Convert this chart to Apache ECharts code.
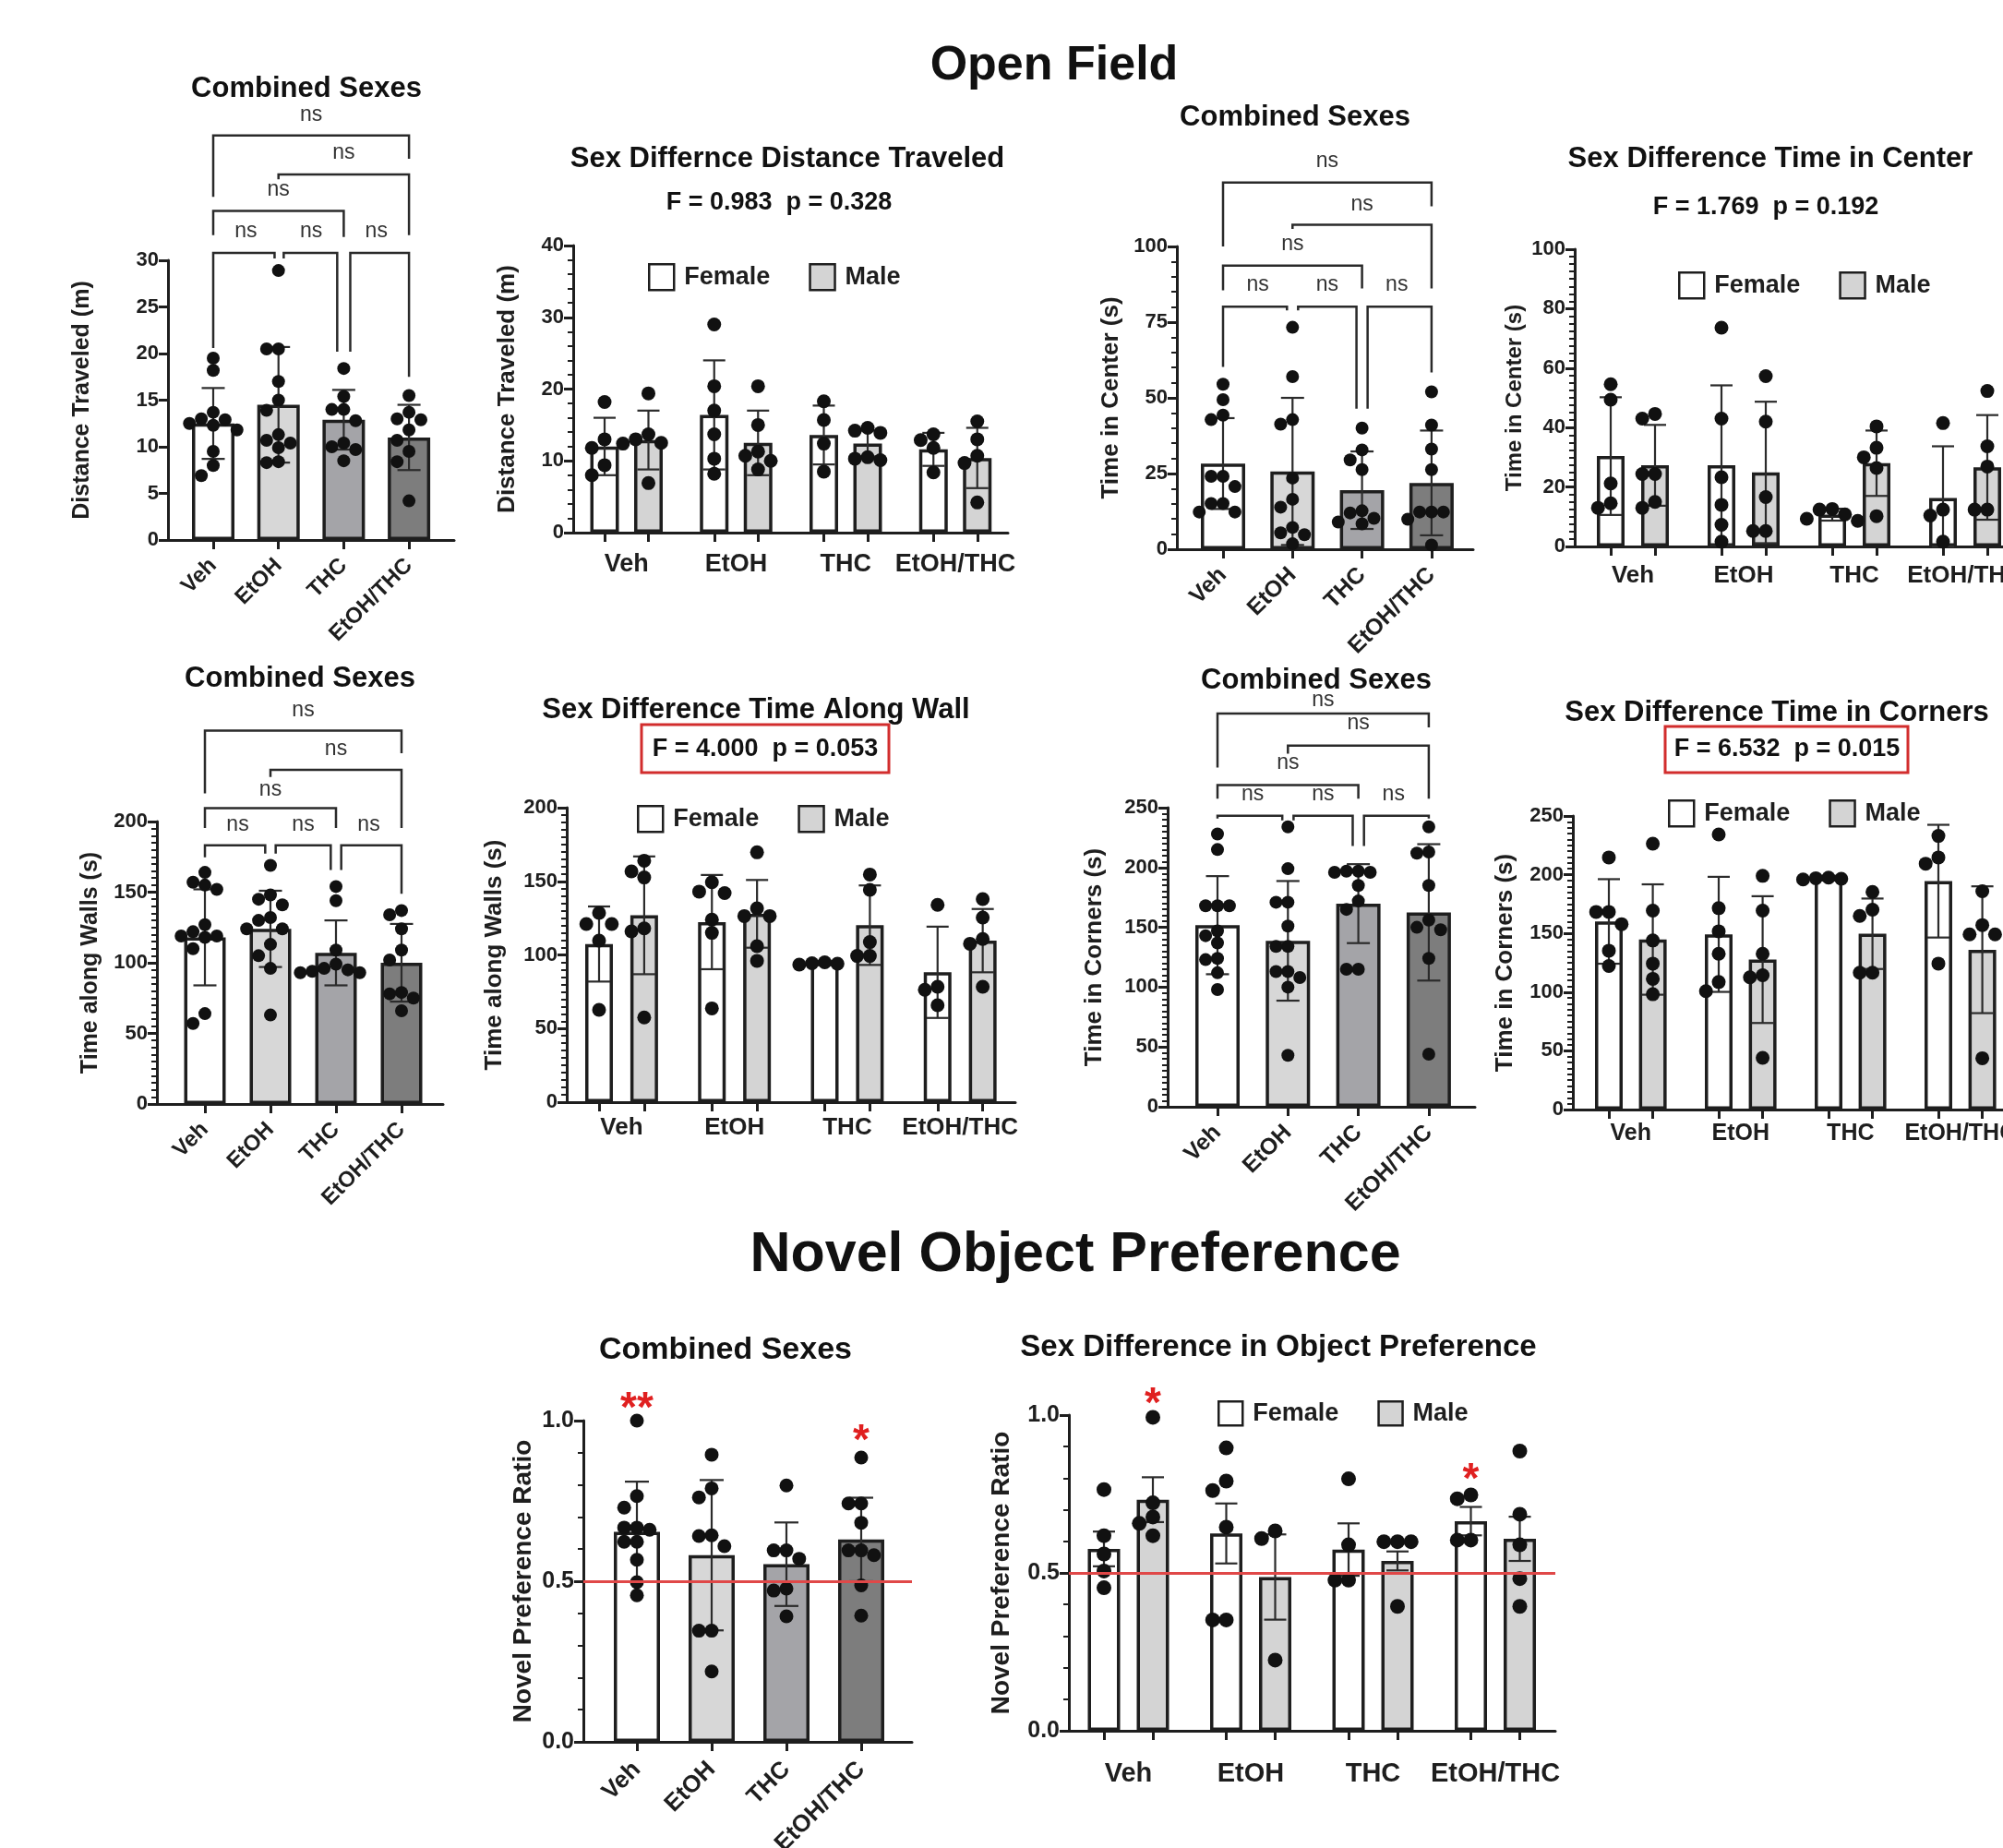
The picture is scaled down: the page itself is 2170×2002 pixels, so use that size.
<!DOCTYPE html>
<html lang="en">
<head>
<meta charset="UTF-8">
<title>Open Field / Novel Object Preference</title>
<style>
  html, body { margin: 0; padding: 0; background: #fff; }
  #main { width: 2170px; height: 2002px; }
</style>
</head>
<body>
<div id="main"></div>
<script src="https://cdn.jsdelivr.net/npm/echarts@6/dist/echarts.min.js"></script>
<script>
// ---- data ----
var groups = ['Veh', 'EtOH', 'THC', 'EtOH/THC'];

// distance traveled (m)
var distBar = [12.5, 14.5, 12.9, 11.0];
var distSd = [3.8, 6.2, 3.2, 3.5];
var distDots = [
  [19.5, 18.2, 13.7, 13.0, 12.9, 12.5, 12.3, 11.8, 9.5, 8.0, 6.9],
  [28.9, 20.5, 20.5, 17.0, 15.0, 13.9, 11.3, 10.7, 10.4, 9.9, 8.4, 8.3],
  [18.4, 15.4, 14.0, 14.0, 12.8, 10.4, 10.0, 9.7, 8.5],
  [15.5, 13.7, 13.0, 12.9, 11.8, 10.7, 9.5, 8.4, 4.2]
];
var distFBar = [12.0, 16.4, 13.6, 11.6];
var distFSd = [4.0, 7.6, 4.1, 2.3];
var distMBar = [12.9, 12.5, 12.4, 10.4];
var distMSd = [4.1, 4.5, 1.8, 4.2];
var distFDots = [[18.2, 13.0, 11.8, 9.4, 8.0], [29.0, 20.4, 17.0, 13.7, 10.3, 8.2], [18.3, 15.7, 12.4, 8.5], [13.7, 12.9, 11.8, 8.4]];
var distMDots = [[19.4, 13.7, 13.0, 12.5, 12.4, 6.9], [20.4, 15.0, 11.3, 10.7, 10.0, 8.8], [14.6, 14.2, 13.9, 10.5, 10.3, 10.1], [15.5, 13.0, 10.7, 9.7, 4.2]];

// time in center (s)
var centerBar = [28.3, 25.7, 19.5, 21.9];
var centerSd = [15.0, 24.3, 12.8, 17.3];
var centerDots = [
  [54.5, 49.4, 44.3, 42.8, 24.1, 24.1, 20.7, 15.1, 15.1, 12.3, 12.3],
  [73.3, 57.0, 42.8, 41.3, 23.5, 16.5, 13.9, 7.2, 5.4, 4.8, 1.8],
  [40.0, 32.8, 29.5, 26.3, 12.7, 12.0, 10.2, 9.0, 8.4],
  [52.0, 41.0, 33.1, 26.3, 12.3, 12.3, 12.3, 9.9, 1.4]
];
var centerFBar = [30.4, 27.3, 10.7, 16.3];
var centerFSd = [19.8, 26.9, 2.0, 17.4];
var centerMBar = [27.3, 24.9, 28.0, 26.6];
var centerMSd = [13.6, 23.8, 11.0, 17.6];
var centerFDots = [[54.6, 49.4, 21.2, 14.5, 13.0], [73.6, 43.0, 23.3, 14.0, 7.3, 1.6], [12.6, 12.4, 10.8, 9.3, 8.6], [41.5, 12.4, 10.4, 1.6]];
var centerMDots = [[44.6, 43.0, 24.4, 24.4, 15.0, 13.0], [57.3, 42.0, 16.6, 5.2, 5.2], [40.4, 33.2, 30.0, 26.4, 10.2], [52.3, 33.7, 26.9, 12.4, 12.4]];

// time along walls (s)
var wallBar = [118, 124, 107, 100];
var wallSd = [34, 27, 23, 27.5];
var wallDots = [
  [164, 157, 155, 152, 127, 122, 119, 119, 118, 110, 64, 57],
  [169, 148, 145, 141, 132, 130, 124, 124, 113, 105, 96, 63],
  [154, 144, 109, 99, 96, 95, 94, 93, 93],
  [137, 134, 124, 109, 102, 79, 78, 75, 66]
];
var wallFBar = [107.4, 122.3, 94.5, 88.2];
var wallFSd = [25.5, 32, 1.2, 31];
var wallMBar = [126.9, 127.9, 120.2, 109.7];
var wallMSd = [40, 23, 27, 21.5];
var wallFDots = [[128.5, 121, 121, 109.7, 62.7], [149.4, 143, 142, 124, 115, 63.7], [95, 94.4, 94, 93.4], [134, 78.4, 76.3, 65.8]];
var wallMDots = [[164, 156.7, 152.6, 118, 116, 57.5], [169.7, 131.7, 126.4, 126.4, 106, 96], [154.6, 144.2, 108.7, 99.3, 99.3], [137.9, 125.4, 110.8, 107.6, 78.4]];

// time in corners (s)
var cornerBar = [151.8, 138.7, 169.8, 162.5];
var cornerSd = [41, 50, 33, 57];
var cornerDots = [
  [228, 215, 168, 168, 168, 147, 143, 137, 124, 123, 112, 98],
  [234, 199, 171, 171, 151, 134, 134, 113, 113, 108, 100, 43],
  [197, 197, 196, 196, 185, 172, 165, 115, 115],
  [234, 213, 212, 185, 156, 150, 148, 124, 44]
];
var cornerFBar = [160.2, 149.2, 197.1, 194.5];
var cornerFSd = [36, 49, 2, 48];
var cornerMBar = [144.8, 127.7, 149.7, 136.1];
var cornerMSd = [47, 54, 30, 54];
var cornerFDots = [[214.7, 168.3, 168.3, 157.9, 135.3, 122.3], [234.3, 171.5, 151.8, 132.7, 108.6, 100.8], [197.5, 197, 196.5, 196], [233, 214.7, 209.4, 124.3]];
var cornerMDots = [[226.4, 169.4, 144, 124.3, 111.3, 98.2], [199, 169.4, 132.7, 114.4, 112.6, 44], [185.3, 170.2, 164.9, 116.5, 116.5], [185.9, 157.1, 149.2, 149.2, 43.7]];

// novel object preference ratio
var novelBar = [0.654, 0.581, 0.553, 0.630];
var novelSd = [0.156, 0.234, 0.13, 0.13];
var novelDots = [
  [1.0, 0.765, 0.729, 0.667, 0.667, 0.660, 0.623, 0.623, 0.567, 0.497, 0.456],
  [0.894, 0.789, 0.761, 0.643, 0.641, 0.609, 0.346, 0.346, 0.219],
  [0.798, 0.596, 0.596, 0.570, 0.477, 0.471, 0.391],
  [0.885, 0.742, 0.742, 0.682, 0.596, 0.596, 0.581, 0.487, 0.393]
];
var novelFBar = [0.576, 0.625, 0.574, 0.664];
var novelFSe = [0.055, 0.095, 0.083, 0.045];
var novelMBar = [0.732, 0.487, 0.538, 0.608];
var novelMSe = [0.071, 0.135, 0.03, 0.07];
var novelFDots = [[0.764, 0.618, 0.56, 0.506, 0.453], [0.896, 0.791, 0.761, 0.645, 0.351, 0.351], [0.798, 0.589, 0.477, 0.477], [0.747, 0.735, 0.604, 0.604]];
var novelMDots = [[0.993, 0.722, 0.677, 0.657, 0.618], [0.633, 0.609, 0.224], [0.599, 0.599, 0.599, 0.394], [0.886, 0.686, 0.589, 0.482, 0.394]];

// significance brackets: [from, to, level, dropFrom, dropTo, labelY, nudgeFrom, nudgeTo]
var distBrackets = [
  [0, 1, 30.8, 20.6, 30.2, 33.1, 0, -0.06], [1, 2, 30.8, 30.2, 20.2, 33.1, 0.08, -0.1], [2, 3, 30.8, 20.2, 17.5, 33.1, 0.1, 0],
  [0, 2, 35.3, 32.7, 32.5, 37.6, 0, 0], [1, 3, 39.2, 38.7, 32.7, 41.5, 0, 0], [0, 3, 43.4, 36.8, 40.9, 45.6, 0, 0]
];
var centerBrackets = [
  [0, 1, 80.1, 60.2, 78.9, 87.3, 0, -0.08], [1, 2, 80.1, 78.9, 46.4, 87.3, 0.08, -0.08], [2, 3, 80.1, 46.4, 58.4, 87.3, 0.08, 0],
  [0, 2, 93.7, 85.5, 86.1, 100.6, 0, 0], [1, 3, 107.2, 105.8, 86.1, 113.9, 0, 0], [0, 3, 121.1, 100, 113.3, 128.3, 0, 0]
];
var wallBrackets = [
  [0, 1, 183.2, 174.7, 177.3, 197.9, 0, -0.08], [1, 2, 183.2, 177.3, 165.7, 197.9, 0.08, -0.08], [2, 3, 183.2, 165.7, 148.9, 197.9, 0.08, 0],
  [0, 2, 209.5, 195.4, 195.4, 222.5, 0, 0], [1, 3, 236.6, 231.5, 195.4, 251.4, 0, 0], [0, 3, 264.3, 219.9, 248.3, 278.7, 0, 0]
];
var cornerBrackets = [
  [0, 1, 243.3, 240.9, 239.3, 260.7, 0, -0.08], [1, 2, 243.3, 239.3, 218, 260.7, 0.08, -0.08], [2, 3, 243.3, 218, 240.9, 260.7, 0.08, 0],
  [0, 2, 268.9, 257.6, 257.6, 287.2, 0, 0], [1, 3, 301.8, 295.1, 257.6, 320.1, 0, 0], [0, 3, 328.7, 283.5, 317.1, 340, 0, 0]
];
// red stars: [x position, y value, text]
var novelStars = [[0, 1.07, '**'], [3, 0.97, '*']];
var novelSexStars = [[1, 1.07, '*'], [7.5, 0.83, '*']];

// ---- styling ----
var FONT = '"Liberation Sans", Arial, Helvetica, sans-serif';
var INK = '#1e1e1e';
var groupColors = ['#ffffff', '#d7d7d7', '#a4a4a8', '#7d7d7d'];
var sexColors = ['#ffffff', '#d4d4d4'];

var option = {
  backgroundColor: '#ffffff',
  animation: false,
  textStyle: { fontFamily: FONT },
  grid: [], xAxis: [], yAxis: [], series: [], legend: [], graphic: []
};

function addText(text, x, y, size, color, weight) {
  option.graphic.push({
    type: 'text', x: x, y: y, z: 10,
    style: {
      text: text, fill: color || '#111', fontSize: size, fontWeight: weight || 'bold', fontFamily: FONT,
      align: 'center', verticalAlign: 'middle', textAlign: 'center', textVerticalAlign: 'middle'
    }
  });
}

// spread dots sideways so they don't overlap (beeswarm, deterministic)
function swarm(vals, center, p) {
  var pxY = (p.y0 - p.yTop) / (p.ymax - p.ymin);
  var step = p.dot * 0.92;
  var placed = [], out = [];
  var order = vals.map(function (v, i) { return i; }).sort(function (a, b) { return vals[b] - vals[a]; });
  order.forEach(function (i) {
    var y = vals[i] * pxY, off = 0;
    for (var k = 0; k < 14; k++) {
      off = (k % 2 ? -1 : 1) * Math.ceil(k / 2) * step;
      var ok = placed.every(function (q) {
        var dx = q[0] - off, dy = q[1] - y;
        return dx * dx + dy * dy >= step * step;
      });
      if (ok) break;
    }
    placed.push([off, y]);
    out.push([center + off / p.unit, vals[i]]);
  });
  return out;
}

function addAxes(p) {
  var gi = option.grid.length;
  option.grid.push({
    left: p.axisX, top: p.yTop, width: p.xEnd - p.axisX, height: p.y0 - p.yTop,
    containLabel: false, outerBoundsMode: 'none'
  });
  option.xAxis.push({
    gridIndex: gi, type: 'value',
    min: (p.axisX - p.firstPx) / p.unit, max: (p.xEnd - p.firstPx) / p.unit,
    axisLine: { onZero: false, lineStyle: { color: INK, width: 3 } },
    axisTick: { show: true, customValues: p.tickAt, length: 10, lineStyle: { color: INK, width: 3 } },
    axisLabel: {
      customValues: p.labelAt, formatter: p.labelFor, rotate: p.rotate || 0, margin: p.labelMargin,
      fontSize: p.catFont, fontWeight: 'bold', color: INK, fontFamily: FONT
    },
    splitLine: { show: false }
  });
  option.yAxis.push({
    gridIndex: gi, type: 'value', min: p.ymin, max: p.ymax, interval: p.interval,
    axisLine: { show: true, onZero: false, lineStyle: { color: INK, width: 3 } },
    axisTick: { show: true, length: 10, lineStyle: { color: INK, width: 3 } },
    minorTick: { show: p.minor > 0, splitNumber: p.minor || 5, length: 6, lineStyle: { color: INK, width: 2 } },
    splitLine: { show: false },
    axisLabel: {
      fontSize: p.tickFont, fontWeight: 'bold', color: INK, margin: 10, fontFamily: FONT,
      formatter: function (v) { return p.decimals ? v.toFixed(p.decimals) : String(v); }
    },
    name: p.yName, nameLocation: 'middle', nameGap: p.nameGap,
    nameTextStyle: { fontSize: p.nameFont, fontWeight: 'bold', color: INK, fontFamily: FONT }
  });
  addText(p.title, p.titleX, p.titleY, p.titleSize);
  return gi;
}

function errSeries(gi, pts, cap) {
  return {
    type: 'custom', xAxisIndex: gi, yAxisIndex: gi, clip: false, z: 3, silent: true,
    encode: { x: 0, y: 1 },
    data: pts,
    renderItem: function (params, api) {
      var x = api.value(0), m = api.value(1), e = api.value(2);
      var hi = api.coord([x, m + e]), lo = api.coord([x, Math.max(0, m - e)]);
      var st = { stroke: '#2b2b2b', lineWidth: 2.2 };
      return {
        type: 'group', children: [
          { type: 'line', shape: { x1: hi[0], y1: hi[1], x2: lo[0], y2: lo[1] }, style: st },
          { type: 'line', shape: { x1: hi[0] - cap / 2, y1: hi[1], x2: hi[0] + cap / 2, y2: hi[1] }, style: st },
          { type: 'line', shape: { x1: lo[0] - cap / 2, y1: lo[1], x2: lo[0] + cap / 2, y2: lo[1] }, style: st }
        ]
      };
    }
  };
}

function dotSeries(gi, pts, p) {
  var s = {
    type: 'scatter', xAxisIndex: gi, yAxisIndex: gi, z: 4, silent: true,
    symbol: 'circle', symbolSize: p.dot, itemStyle: { color: '#111', opacity: 1 },
    data: pts
  };
  if (p.chance) {
    s.markLine = {
      silent: true, symbol: ['none', 'none'], label: { show: false },
      lineStyle: { color: '#e04848', width: 3, type: 'solid' },
      data: [{ yAxis: p.chance }]
    };
  }
  return s;
}

function starSeries(gi, stars) {
  return {
    type: 'custom', xAxisIndex: gi, yAxisIndex: gi, clip: false, z: 6, silent: true,
    encode: { x: 0, y: 1 },
    data: stars.map(function (s) { return [s[0], s[1]]; }),
    renderItem: function (params, api) {
      var c = api.coord([api.value(0), api.value(1)]);
      return {
        type: 'text', x: c[0], y: c[1] + 13,
        style: { text: stars[params.dataIndex][2], fill: '#e02020', fontSize: 46, fontWeight: 'bold', fontFamily: FONT, align: 'center', verticalAlign: 'middle' }
      };
    }
  };
}

function addCombined(p) {
  p.tickAt = [0, 1, 2, 3];
  p.labelAt = [0, 1, 2, 3];
  p.rotate = 45;
  p.labelFor = function (v) { return groups[Math.round(v)] || ''; };
  var gi = addAxes(p);
  option.series.push({
    type: 'bar', xAxisIndex: gi, yAxisIndex: gi, barWidth: p.barW, z: 2, silent: true,
    itemStyle: { borderColor: INK, borderWidth: 3.5 },
    data: p.bar.map(function (v, i) { return { value: [i, v], itemStyle: { color: groupColors[i] } }; })
  });
  option.series.push(errSeries(gi, p.bar.map(function (v, i) { return [i, v, p.err[i]]; }), p.cap));
  var pts = [];
  p.dots.forEach(function (vals, i) { pts = pts.concat(swarm(vals, i, p)); });
  option.series.push(dotSeries(gi, pts, p));
  if (p.brackets) {
    option.series.push({
      type: 'custom', xAxisIndex: gi, yAxisIndex: gi, clip: false, z: 5, silent: true,
      encode: { x: 0, y: 2 },
      data: p.brackets,
      renderItem: function (params, api) {
        var a = api.value(0) + api.value(6), b = api.value(1) + api.value(7);
        var p1 = api.coord([a, api.value(3)]), p2 = api.coord([a, api.value(2)]);
        var p3 = api.coord([b, api.value(2)]), p4 = api.coord([b, api.value(4)]);
        var t = api.coord([(api.value(0) + api.value(1)) / 2, api.value(5)]);
        return {
          type: 'group', children: [
            { type: 'polyline', shape: { points: [p1, p2, p3, p4] }, style: { stroke: '#2a2a2a', lineWidth: 2.5, fill: 'none' } },
            { type: 'text', x: t[0], y: t[1], style: { text: 'ns', fill: '#333', fontSize: 23, fontFamily: FONT, align: 'center', verticalAlign: 'middle' } }
          ]
        };
      }
    });
  }
  if (p.stars) option.series.push(starSeries(gi, p.stars));
}

function addSexPanel(p) {
  p.tickAt = [];
  p.labelAt = [];
  groups.forEach(function (g, i) { p.tickAt.push(i * 2.5, i * 2.5 + 1); p.labelAt.push(i * 2.5 + 0.5); });
  p.labelFor = function (v) { return groups[Math.round((v - 0.5) / 2.5)] || ''; };
  var gi = addAxes(p);
  var sets = [[p.fBar, p.fErr, p.fDots], [p.mBar, p.mErr, p.mDots]];
  ['Female', 'Male'].forEach(function (sex, s) {
    var bars = sets[s][0], errs = sets[s][1], dots = sets[s][2];
    option.series.push({
      name: sex, type: 'bar', xAxisIndex: gi, yAxisIndex: gi, barWidth: p.barW, barGap: '-100%', z: 2, silent: true,
      itemStyle: { color: sexColors[s], borderColor: INK, borderWidth: 3.5 },
      data: bars.map(function (v, i) { return [i * 2.5 + s, v]; })
    });
    option.series.push(errSeries(gi, bars.map(function (v, i) { return [i * 2.5 + s, v, errs[i]]; }), p.cap));
    var pts = [];
    dots.forEach(function (vals, i) { pts = pts.concat(swarm(vals, i * 2.5 + s, p)); });
    option.series.push(dotSeries(gi, pts, s === 0 ? p : { dot: p.dot }));
  });
  option.legend.push({
    data: ['Female', 'Male'], left: p.legendX, top: p.legendY, padding: 0, orient: 'horizontal',
    itemWidth: p.legendBox[0], itemHeight: p.legendBox[1], itemGap: 42, icon: 'rect', selectedMode: false,
    itemStyle: { borderColor: INK, borderWidth: 2.5 },
    textStyle: { fontSize: 27, fontWeight: 'bold', color: INK, fontFamily: FONT, padding: [0, 0, 0, 6] }
  });
  if (p.stat) addText(p.stat, p.statX, p.statY, 27);
  if (p.statBox) {
    option.graphic.push({
      type: 'rect', z: 10, shape: { x: p.statBox[0], y: p.statBox[1], width: p.statBox[2], height: p.statBox[3] },
      style: { fill: 'none', stroke: '#d22d2d', lineWidth: 3 }
    });
  }
  if (p.stars) option.series.push(starSeries(gi, p.stars));
}

// ---- panels ----
addCombined({
  title: 'Combined Sexes', titleX: 332, titleY: 96, titleSize: 31,
  axisX: 182, firstPx: 231, unit: 70.7, xEnd: 492, y0: 585, yTop: 282,
  ymin: 0, ymax: 30, interval: 5, minor: 0, yName: 'Distance Traveled (m)', nameGap: 80, nameFont: 25,
  tickFont: 22, catFont: 24, labelMargin: 24, barW: 46, dot: 14, cap: 25,
  bar: distBar, err: distSd, dots: distDots, brackets: distBrackets
});
addSexPanel({
  title: 'Sex Differnce Distance Traveled', titleX: 853, titleY: 172, titleSize: 31,
  stat: 'F = 0.983  p = 0.328', statX: 844, statY: 220,
  axisX: 621, firstPx: 655, unit: 47.5, xEnd: 1092, y0: 577, yTop: 266,
  ymin: 0, ymax: 40, interval: 10, minor: 5, yName: 'Distance Traveled (m)', nameGap: 58, nameFont: 26,
  tickFont: 22, catFont: 27, labelMargin: 21, barW: 31, dot: 15, cap: 24,
  legendX: 702, legendY: 285, legendBox: [27, 28],
  fBar: distFBar, fErr: distFSd, fDots: distFDots, mBar: distMBar, mErr: distMSd, mDots: distMDots
});
addCombined({
  title: 'Combined Sexes', titleX: 1403, titleY: 127, titleSize: 31,
  axisX: 1275, firstPx: 1325, unit: 75.3, xEnd: 1596, y0: 595, yTop: 267,
  ymin: 0, ymax: 100, interval: 25, minor: 5, yName: 'Time in Center (s)', nameGap: 58, nameFont: 26,
  tickFont: 22, catFont: 25, labelMargin: 24, barW: 48, dot: 14, cap: 25,
  bar: centerBar, err: centerSd, dots: centerDots, brackets: centerBrackets
});
addSexPanel({
  title: 'Sex Difference Time in Center', titleX: 1918, titleY: 172, titleSize: 31,
  stat: 'F = 1.769  p = 0.192', statX: 1913, statY: 225,
  axisX: 1706, firstPx: 1745, unit: 48, xEnd: 2200, y0: 592, yTop: 270,
  ymin: 0, ymax: 100, interval: 20, minor: 8, yName: 'Time in Center (s)', nameGap: 53, nameFont: 24,
  tickFont: 22, catFont: 26, labelMargin: 19, barW: 30, dot: 15, cap: 24,
  legendX: 1818, legendY: 294, legendBox: [27, 28],
  fBar: centerFBar, fErr: centerFSd, fDots: centerFDots, mBar: centerMBar, mErr: centerMSd, mDots: centerMDots
});
addCombined({
  title: 'Combined Sexes', titleX: 325, titleY: 735, titleSize: 31,
  axisX: 170, firstPx: 222, unit: 71, xEnd: 480, y0: 1196, yTop: 890,
  ymin: 0, ymax: 200, interval: 50, minor: 10, yName: 'Time along Walls (s)', nameGap: 59, nameFont: 25,
  tickFont: 22, catFont: 24, labelMargin: 24, barW: 45, dot: 14, cap: 25,
  bar: wallBar, err: wallSd, dots: wallDots, brackets: wallBrackets
});
addSexPanel({
  title: 'Sex Difference Time Along Wall', titleX: 819, titleY: 769, titleSize: 31,
  stat: 'F = 4.000  p = 0.053', statX: 829, statY: 812, statBox: [695, 785, 268, 52],
  axisX: 614, firstPx: 649, unit: 48.9, xEnd: 1100, y0: 1194, yTop: 875,
  ymin: 0, ymax: 200, interval: 50, minor: 10, yName: 'Time along Walls (s)', nameGap: 65, nameFont: 26,
  tickFont: 22, catFont: 26, labelMargin: 15, barW: 30, dot: 15, cap: 24,
  legendX: 690, legendY: 872, legendBox: [27, 28],
  fBar: wallFBar, fErr: wallFSd, fDots: wallFDots, mBar: wallMBar, mErr: wallMSd, mDots: wallMDots
});
addCombined({
  title: 'Combined Sexes', titleX: 1426, titleY: 737, titleSize: 31,
  axisX: 1265, firstPx: 1319, unit: 76.3, xEnd: 1598, y0: 1199, yTop: 875,
  ymin: 0, ymax: 250, interval: 50, minor: 10, yName: 'Time in Corners (s)', nameGap: 66, nameFont: 26,
  tickFont: 22, catFont: 25, labelMargin: 24, barW: 48, dot: 14, cap: 25,
  bar: cornerBar, err: cornerSd, dots: cornerDots, brackets: cornerBrackets
});
addSexPanel({
  title: 'Sex Difference Time in Corners', titleX: 1925, titleY: 772, titleSize: 31,
  stat: 'F = 6.532  p = 0.015', statX: 1936, statY: 812, statBox: [1804, 787, 263, 50],
  axisX: 1704, firstPx: 1743, unit: 47.6, xEnd: 2200, y0: 1202, yTop: 884,
  ymin: 0, ymax: 250, interval: 50, minor: 10, yName: 'Time in Corners (s)', nameGap: 60, nameFont: 26,
  tickFont: 22, catFont: 25, labelMargin: 14, barW: 30, dot: 15, cap: 24,
  legendX: 1807, legendY: 866, legendBox: [27, 28],
  fBar: cornerFBar, fErr: cornerFSd, fDots: cornerFDots, mBar: cornerMBar, mErr: cornerMSd, mDots: cornerMDots
});
addCombined({
  title: 'Combined Sexes', titleX: 786, titleY: 1463, titleSize: 34,
  axisX: 632, firstPx: 690, unit: 81, xEnd: 988, y0: 1887, yTop: 1539,
  ymin: 0, ymax: 1, interval: 0.5, minor: 5, decimals: 1, yName: 'Novel Preference Ratio', nameGap: 51, nameFont: 28,
  tickFont: 25, catFont: 26, labelMargin: 26, barW: 50, dot: 15, cap: 26, chance: 0.5,
  bar: novelBar, err: novelSd, dots: novelDots, stars: novelStars
});
addSexPanel({
  title: 'Sex Difference in Object Preference', titleX: 1385, titleY: 1460, titleSize: 33,
  stat: '', statX: 0, statY: 0,
  axisX: 1158, firstPx: 1196, unit: 53, xEnd: 1685, y0: 1875, yTop: 1533,
  ymin: 0, ymax: 1, interval: 0.5, minor: 5, decimals: 1, yName: 'Novel Preference Ratio', nameGap: 59, nameFont: 28,
  tickFont: 25, catFont: 29, labelMargin: 32, barW: 35, dot: 16, cap: 24, chance: 0.5,
  legendX: 1319, legendY: 1517, legendBox: [26, 26],
  fBar: novelFBar, fErr: novelFSe, fDots: novelFDots, mBar: novelMBar, mErr: novelMSe, mDots: novelMDots,
  stars: novelSexStars
});

addText('Open Field', 1142, 72, 52);
addText('Novel Object Preference', 1165, 1360, 61);

var myChart = echarts.init(document.getElementById('main'));
myChart.setOption(option);
</script>
</body>
</html>
